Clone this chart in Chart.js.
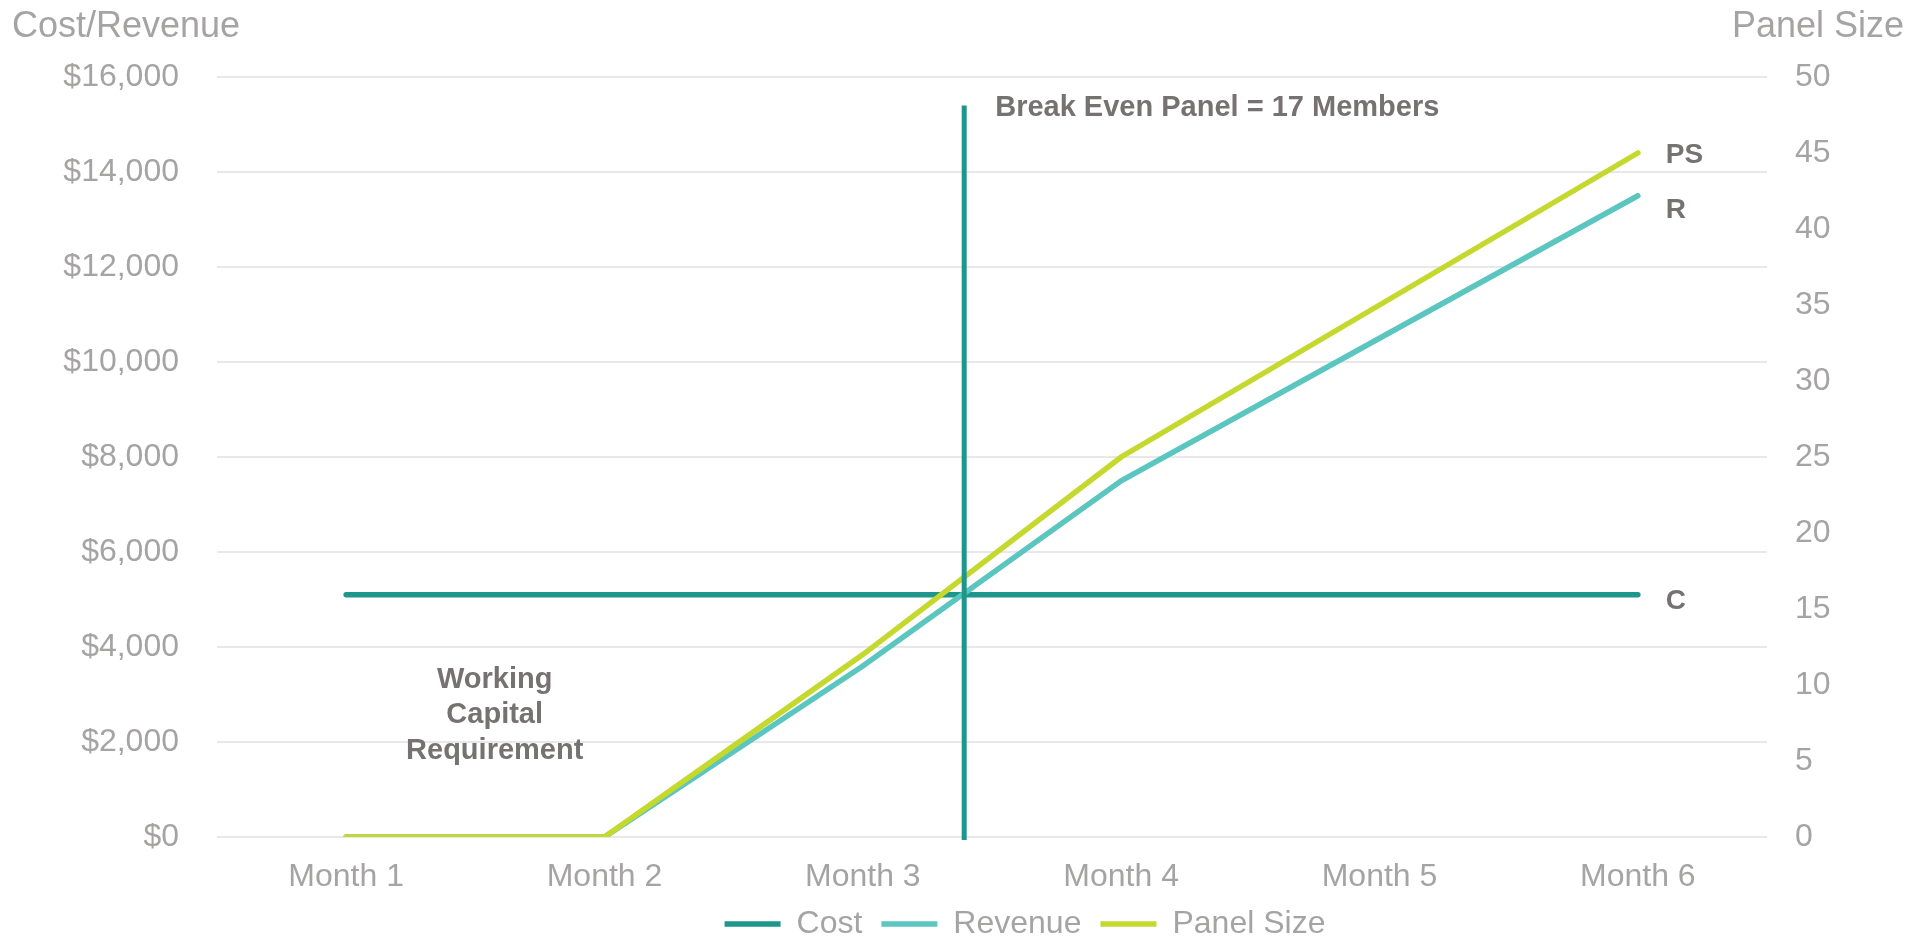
<!DOCTYPE html>
<html>
<head>
<meta charset="utf-8">
<script src="https://cdn.jsdelivr.net/npm/chart.js@4.4.1/dist/chart.umd.min.js"></script>
<style>
  html, body { margin: 0; padding: 0; background: #ffffff; }
  #wrap { width: 1914px; height: 937px; position: relative; }
</style>
</head>
<body>
<div id="wrap"><canvas id="break-even-chart"></canvas></div>
<script>
'use strict';

const months = ['Month 1', 'Month 2', 'Month 3', 'Month 4', 'Month 5', 'Month 6'];
const costValues = [5100, 5100, 5100, 5100, 5100, 5100];
const revenueValues = [0, 0, 3600, 7500, 10500, 13500];
const panelSizeValues = [0, 0, 12, 25, 35, 45];
const breakEvenPanel = 17;
const moneyTicks = [0, 2000, 4000, 6000, 8000, 10000, 12000, 14000, 16000];
const panelTicks = [0, 5, 10, 15, 20, 25, 30, 35, 40, 45, 50];

const FONT = '"Liberation Sans", Arial, sans-serif';
const tickGray = '#a6a3a3';
const noteGray = '#767272';
const costColor = '#1f968b';
const revenueColor = '#5bc5bf';
const panelColor = '#c4d82e';

// fractional category index where the panel size reaches break even
window.breakEvenIndex = function () {
    for (let i = 1; i < panelSizeValues.length; i++) {
        let a = panelSizeValues[i - 1], b = panelSizeValues[i];
        if (a < breakEvenPanel && b >= breakEvenPanel) {
            return i - 1 + (breakEvenPanel - a) / (b - a);
        }
    }
    return 0;
};

const notesPlugin = {
    id: 'notes',
    afterLayout: function (chart) {
        // legend sits a bit right of the canvas centre
        chart.legend.left += 68;
        chart.legend.right += 68;
    },
    afterDatasetsDraw: function (chart) {
        let ctx = chart.ctx;
        let x = chart.scales.x, y = chart.scales.y, y1 = chart.scales.y1;
        let area = chart.chartArea;
        ctx.save();

        // break even vertical line
        let bx = x.getPixelForValue(breakEvenIndex()) + 2;
        ctx.strokeStyle = costColor;
        ctx.lineWidth = 5;
        ctx.beginPath();
        ctx.moveTo(bx, y.getPixelForValue(15400));
        ctx.lineTo(bx, area.bottom + 3);
        ctx.stroke();

        ctx.fillStyle = noteGray;
        ctx.font = 'bold 29px ' + FONT;
        ctx.textBaseline = 'middle';
        ctx.textAlign = 'left';
        ctx.fillText('Break Even Panel = ' + breakEvenPanel + ' Members', bx + 31, y.getPixelForValue(15400) + 2);

        // series end labels
        let last = months.length - 1;
        let lx = x.getPixelForValue(last) + 28;
        ctx.font = 'bold 28px ' + FONT;
        ctx.fillText('PS', lx, y1.getPixelForValue(panelSizeValues[last]) + 2);
        ctx.fillText('R', lx, y.getPixelForValue(revenueValues[last]) + 15);
        ctx.fillText('C', lx, y.getPixelForValue(costValues[last]) + 7);

        // working capital note
        ctx.textAlign = 'center';
        ctx.font = 'bold 29px ' + FONT;
        let wx = x.getPixelForValue(0.575);
        let wy = y.getPixelForValue(3400) + 4;
        ['Working', 'Capital', 'Requirement'].forEach(function (line, i) {
            ctx.fillText(line, wx, wy + i * 35.5);
        });

        // axis titles
        ctx.font = '36px ' + FONT;
        ctx.fillStyle = tickGray;
        ctx.textAlign = 'left';
        ctx.fillText('Cost/Revenue', 12, 27);
        ctx.textAlign = 'right';
        ctx.fillText('Panel Size', 1904, 27);
        ctx.restore();
    },
};

let ctx = document.getElementById('break-even-chart').getContext('2d');

window.myLine = new Chart(ctx, {
    type: 'line',
    data: {
        labels: months,
        datasets: [
            {
                label: 'Cost',
                data: costValues,
                borderColor: costColor,
                backgroundColor: costColor,
                borderWidth: 5.5,
                borderCapStyle: 'round',
                yAxisID: 'y',
                order: 2,
            },
            {
                label: 'Revenue',
                data: revenueValues,
                borderColor: revenueColor,
                backgroundColor: revenueColor,
                borderWidth: 5.5,
                borderCapStyle: 'round',
                yAxisID: 'y',
                order: 1,
            },
            {
                label: 'Panel Size',
                data: panelSizeValues,
                borderColor: panelColor,
                backgroundColor: panelColor,
                borderWidth: 5.5,
                borderCapStyle: 'round',
                yAxisID: 'y1',
                order: 0,
            }],
    },
    plugins: [notesPlugin],
    options: {
        responsive: true,
        maintainAspectRatio: false,
        animation: false,
        elements: {
            line: { tension: 0, fill: false },
            point: { radius: 0, hoverRadius: 0 },
        },
        layout: {
            padding: { left: 0, right: 0, top: 77, bottom: -13 },
        },
        plugins: {
            tooltip: { enabled: false },
            legend: {
                position: 'bottom',
                labels: {
                    usePointStyle: true,
                    pointStyle: 'line',
                    pointStyleWidth: 56,
                    boxHeight: 6,
                    padding: 19,
                    color: tickGray,
                    font: { family: FONT, size: 32 },
                    sort: function (a, b) { return a.datasetIndex - b.datasetIndex; },
                },
            },
        },
        scales: {
            x: {
                offset: true,
                grid: { display: false, drawTicks: false },
                border: { display: false },
                ticks: {
                    color: tickGray,
                    padding: 21,
                    font: { family: FONT, size: 32 },
                },
                afterFit: function (scale) { scale.height = 52; },
            },
            y: {
                position: 'left',
                min: 0,
                max: 16000,
                afterBuildTicks: function (scale) {
                    scale.ticks = moneyTicks.map(function (v) { return { value: v }; });
                },
                grid: { color: '#e8e8e8', lineWidth: 2, drawTicks: false },
                border: { display: false },
                ticks: {
                    color: tickGray,
                    padding: 38,
                    font: { family: FONT, size: 32 },
                    callback: function (value) {
                        return '$' + Number(value).toLocaleString('en-US');
                    },
                },
                afterFit: function (scale) { scale.width = 217; },
            },
            y1: {
                position: 'right',
                min: 0,
                max: 50,
                afterBuildTicks: function (scale) {
                    scale.ticks = panelTicks.map(function (v) { return { value: v }; });
                },
                grid: { display: false, drawTicks: false },
                border: { display: false },
                ticks: {
                    color: tickGray,
                    padding: 28,
                    font: { family: FONT, size: 32 },
                },
                afterFit: function (scale) { scale.width = 147; },
            },
        },
    },
});
</script>
</body>
</html>
